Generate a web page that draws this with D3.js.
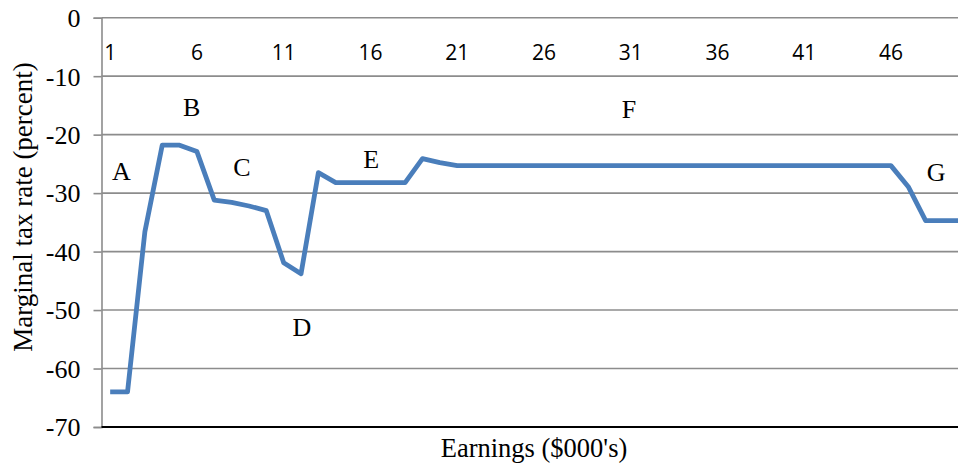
<!DOCTYPE html>
<html>
<head>
<meta charset="utf-8">
<script src="https://cdn.jsdelivr.net/npm/d3@7"></script>
<style>
  body { margin: 0; background: #fff; }
  svg { display: block; }
  .serif { font-family: "Liberation Serif", "Times New Roman", serif; fill: #000; }
  .sans { font-family: "Open Sans", "Liberation Sans", sans-serif; fill: #000; }
</style>
</head>
<body>
<svg width="958" height="464"></svg>
<script>
// Earnings categories 1..50 ($000's)
var categories = d3.range(1, 51);

// Marginal tax rate (percent)
var rates = [
  -64, -64, -36.6, -21.8, -21.8, -22.9, -31.2, -31.6, -32.2, -33.0,
  -41.9, -43.8, -26.5, -28.2, -28.2, -28.2, -28.2, -28.2, -24.1, -24.8,
  -25.3, -25.3, -25.3, -25.3, -25.3, -25.3, -25.3, -25.3, -25.3, -25.3,
  -25.3, -25.3, -25.3, -25.3, -25.3, -25.3, -25.3, -25.3, -25.3, -25.3,
  -25.3, -25.3, -25.3, -25.3, -25.3, -25.3, -28.9, -34.7, -34.7, -34.7
];

var yTicks = [0, -10, -20, -30, -40, -50, -60, -70];
var xTickLabels = [1, 6, 11, 16, 21, 26, 31, 36, 41, 46];

// Region labels: category position and rate level
var regionLabels = [
  { text: "A", cat: 1.65, rate: -26.2 },
  { text: "B", cat: 5.7, rate: -15.3 },
  { text: "C", cat: 8.6, rate: -25.6 },
  { text: "D", cat: 12.05, rate: -52.9 },
  { text: "E", cat: 16.05, rate: -24.1 },
  { text: "F", cat: 30.9, rate: -15.6 },
  { text: "G", cat: 48.6, rate: -26.3 }
];

var svg = d3.select("svg");
var plotLeft = 101.5, plotTop = 17.7, plotBottom = 427, step = 17.35;

var x = d3
  .scaleBand()
  .domain(categories)
  .range([plotLeft, plotLeft + step * categories.length]);

var y = d3.scaleLinear().domain([0, -70]).range([plotTop, plotBottom]);

function xc(c) {
  return plotLeft + (c - 1) * step + step / 2;
}

// Gridlines
svg
  .append("g")
  .selectAll("line")
  .data(yTicks.slice(0, -1))
  .enter()
  .append("line")
  .attr("x1", plotLeft)
  .attr("x2", 958)
  .attr("y1", function(d) { return y(d); })
  .attr("y2", function(d) { return y(d); })
  .attr("stroke", "#8c8c8c")
  .attr("stroke-width", 1.6);

// Y axis
var yAxis = d3
  .axisLeft(y)
  .tickValues(yTicks)
  .tickSize(8)
  .tickFormat(d3.format("d"));

var yg = svg
  .append("g")
  .attr("transform", "translate(" + plotLeft + ",0)")
  .call(yAxis);

yg.select(".domain").attr("stroke", "#8c8c8c").attr("stroke-width", 1.6);
yg.selectAll(".tick line").attr("stroke", "#8c8c8c").attr("stroke-width", 1.6);
yg
  .selectAll(".tick text")
  .attr("class", "serif")
  .attr("x", -21)
  .attr("dy", "0.34em")
  .style("font-size", "26px")
  .text(function(d) { return d === 0 ? "0" : "-" + Math.abs(d); });

// Bottom axis line (black)
svg
  .append("line")
  .attr("x1", plotLeft)
  .attr("x2", 958)
  .attr("y1", y(-70))
  .attr("y2", y(-70))
  .attr("stroke", "#000")
  .attr("stroke-width", 2.2);

// Category labels under the zero line
svg
  .append("g")
  .selectAll("text")
  .data(xTickLabels)
  .enter()
  .append("text")
  .attr("class", "sans")
  .attr("x", function(d) { return x(d) + x.bandwidth() / 2; })
  .attr("y", 60)
  .attr("text-anchor", "middle")
  .style("font-size", "21px")
  .text(function(d) { return d; });

// Line
var line = d3
  .line()
  .x(function(d, i) { return x(categories[i]) + x.bandwidth() / 2; })
  .y(function(d) { return y(d); });

svg
  .append("path")
  .datum(rates)
  .attr("d", line)
  .attr("fill", "none")
  .attr("stroke", "#4a7ebb")
  .attr("stroke-width", 4.8)
  .attr("stroke-linejoin", "round");

// Region letters
svg
  .append("g")
  .selectAll("text")
  .data(regionLabels)
  .enter()
  .append("text")
  .attr("class", "serif")
  .attr("x", function(d) { return xc(d.cat); })
  .attr("y", function(d) { return y(d.rate); })
  .attr("text-anchor", "middle")
  .attr("dy", "0.35em")
  .style("font-size", "26px")
  .text(function(d) { return d.text; });

// Axis titles
svg
  .append("text")
  .attr("class", "serif")
  .attr("transform", "translate(32,207) rotate(-90)")
  .attr("text-anchor", "middle")
  .style("font-size", "27px")
  .text("Marginal tax rate (percent)");

svg
  .append("text")
  .attr("class", "serif")
  .attr("x", 534)
  .attr("y", 457)
  .attr("text-anchor", "middle")
  .style("font-size", "26.5px")
  .text("Earnings ($000's)");
</script>
</body>
</html>
